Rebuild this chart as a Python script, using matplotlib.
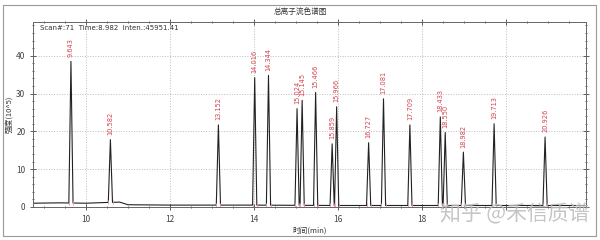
import numpy as np
import matplotlib
matplotlib.use("Agg")
import matplotlib.pyplot as plt
from matplotlib.ticker import MultipleLocator, FuncFormatter
from matplotlib.patches import Rectangle

plt.rcParams['font.family'] = ['Noto Sans CJK SC', 'DejaVu Sans']

# Data
peak_labels = ["9.643", "10.582", "13.152", "14.016", "14.344", "15.024", "15.145",
               "15.466", "15.859", "15.966", "16.727", "17.081", "17.709", "18.433",
               "18.550", "18.982", "19.713", "20.926"]
peak_times = [9.643, 10.582, 13.152, 14.016, 14.344, 15.024, 15.145,
              15.466, 15.859, 15.966, 16.727, 17.081, 17.709, 18.433,
              18.550, 18.982, 19.713, 20.926]
peak_heights = [38.5, 17.8, 21.7, 34.2, 34.8, 26.0, 28.2,
                30.3, 16.7, 26.5, 17.0, 28.6, 21.7, 23.8,
                19.7, 14.5, 22.0, 18.5]
baseline_t = [8.7, 9.4, 10.0, 10.8, 11.0, 12.0, 14.0, 16.0, 18.0, 20.0, 21.9]
baseline_y = [1.0, 1.1, 1.0, 1.3, 0.6, 0.5, 0.5, 0.4, 0.4, 0.4, 0.4]
x_tick_labels = {10: "10", 12: "12", 14: "14", 16: "16", 18: "18"}

title = "总离子流色谱图"
xlabel = "时间(min)"
ylabel = "强度(10^5)"
scan_text = "Scan#:71  Time:8.982  Inten.:45951.41"
watermark = "知乎 @禾信质谱"

hw = 0.05
pts = list(zip(baseline_t, baseline_y))
for t, h in zip(peak_times, peak_heights):
    b = float(np.interp(t, baseline_t, baseline_y))
    pts += [(t - hw, b), (t, h), (t + hw, b)]
pts.sort()
clean = []
base_set = set(zip(baseline_t, baseline_y))
for t, y in pts:
    inside = any(abs(t - pt) < hw - 1e-9 and t != pt for pt in peak_times)
    if inside and (t, y) in base_set:
        continue
    clean.append((t, y))
tr_t = [p[0] for p in clean]
tr_y = [p[1] for p in clean]

fig = plt.figure(figsize=(6, 2.4), dpi=100)
fig.patch.set_facecolor('white')
fig.add_artist(Rectangle((3/600, 1 - 236/240), 593/600, 231/240, transform=fig.transFigure,
                         fill=False, edgecolor='#999999', linewidth=0.8))

ax = fig.add_axes([33/600, 1 - 207/240, 553/600, 185/240])
ax.plot(tr_t, tr_y, color='#222222', linewidth=0.8)

red = '#d2424f'
for t, h, lab in zip(peak_times, peak_heights, peak_labels):
    ax.text(t, h + 1.2, lab, rotation=90, ha='center', va='bottom',
            fontsize=4.8, color=red, family=['DejaVu Sans'])
    b = float(np.interp(t, baseline_t, baseline_y))
    ax.plot([t - hw, t + hw], [b, b], linestyle='none', marker='|',
            markersize=2.5, color='#e89aa5', markeredgewidth=0.6)

ax.set_xlim(8.74, 21.9)
ax.set_ylim(0, 48.9)
ax.xaxis.set_major_locator(MultipleLocator(2))
ax.xaxis.set_minor_locator(MultipleLocator(0.5))
ax.xaxis.set_major_formatter(FuncFormatter(lambda v, p: x_tick_labels.get(int(round(v)), "")))
ax.yaxis.set_major_locator(MultipleLocator(10))
ax.yaxis.set_minor_locator(MultipleLocator(2))
ax.tick_params(which='both', direction='inout', top=True, right=True,
               labelsize=6, colors='#444444', width=0.6)
ax.tick_params(which='major', length=4)
ax.tick_params(which='minor', length=2)
ax.grid(True, which='major', linestyle=':', color='#bbbbbb', linewidth=0.7)
for s in ax.spines.values():
    s.set_color('#666666')
    s.set_linewidth(0.7)

ax.set_xlabel(xlabel, fontsize=5.5, labelpad=2, color='#333333')
ax.set_ylabel(ylabel, fontsize=5.5, labelpad=2, color='#333333')
fig.text(0.5, 1 - 13/240, title, ha='center', va='center', fontsize=5.5, color='#333333')
ax.text(0.012, 0.985, scan_text, transform=ax.transAxes, ha='left', va='top',
        fontsize=5, color='#333333', family=['DejaVu Sans'])
fig.text(0.983, 1 - 214/240, watermark, ha='right', va='center', fontsize=15,
         color='#bbbbbb', alpha=0.85)

fig.savefig('out.png', dpi=100)
